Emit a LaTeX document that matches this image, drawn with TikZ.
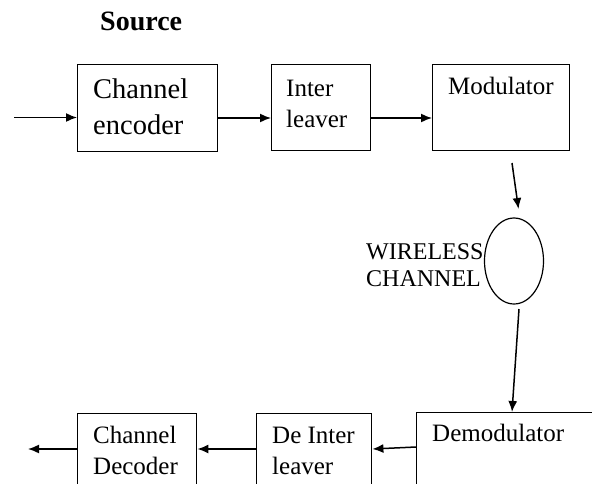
\documentclass[tikz,border=0pt]{standalone}
\usepackage{fontspec}
\setmainfont{Liberation Serif}
\usetikzlibrary{arrows.meta,shapes.geometric}
\begin{document}
\begin{tikzpicture}[x=1pt,y=-1pt,
  blk/.style={draw,line width=1.4pt,inner sep=0pt,anchor=north west},
  lbl/.style={anchor=base west,inner sep=0pt,font=\fontsize{25}{30}\selectfont},
  big/.style={anchor=base west,inner sep=0pt,font=\fontsize{28.5}{34}\selectfont},
  conn/.style={line width=1.5pt,-{Latex[length=11pt,width=9pt]}}]
  \useasboundingbox (0,0) rectangle (592,483);
  \clip (0,0) rectangle (592,483);

  % title
  \node[anchor=base west,inner sep=0pt,font=\fontsize{28}{34}\selectfont\bfseries] (src) at (100,30) {Source};

  % transmitter chain
  \node[blk,minimum width=140pt,minimum height=87pt] (enc) at (77,64) {};
  \node[big] (encA) at (93,98) {Channel};
  \node[big] (encB) at (93,134) {encoder};

  \node[blk,minimum width=99pt,minimum height=86pt] (il) at (271,64) {};
  \node[lbl] (ilA) at (286,96) {Inter};
  \node[lbl] (ilB) at (286,127) {leaver};

  \node[blk,minimum width=137pt,minimum height=86pt] (mod) at (432,64) {};
  \node[lbl] (modA) at (448,94) {Modulator};

  \coordinate (in) at (14,117.5);
  \draw[conn] (in) -- (enc.west |- in);
  \draw[conn] (enc.east |- 0,118) -- (il.west |- 0,118);
  \draw[conn] (il.east |- 0,118) -- (mod.west |- 0,118);

  % wireless channel
  \node[draw,ellipse,line width=1.2pt,minimum width=59pt,minimum height=86pt,inner sep=0pt] (ch) at (514,261) {};
  \node[anchor=base west,inner sep=0pt,font=\fontsize{24}{28}\selectfont] (chA) at (366,259) {WIRELESS};
  \node[anchor=base west,inner sep=0pt,font=\fontsize{24}{28}\selectfont] (chB) at (366,286) {CHANNEL};

  \coordinate (m1) at (512,163);
  \coordinate (m2) at (518.5,209);
  \draw[conn] (m1) -- (m2);

  % receiver chain
  \node[blk,minimum width=200pt,minimum height=100pt] (dem) at (416,412) {};
  \node[lbl] (demA) at (432,441) {Demodulator};

  \node[blk,minimum width=115pt,minimum height=100pt] (dil) at (256,413) {};
  \node[lbl] (dilA) at (272,443) {De Inter};
  \node[lbl] (dilB) at (272,474) {leaver};

  \node[blk,minimum width=119pt,minimum height=100pt] (dec) at (77,413) {};
  \node[lbl] (decA) at (93,443) {Channel};
  \node[lbl] (decB) at (93,474) {Decoder};

  \coordinate (c1) at (519,309);
  \draw[conn] (c1) -- (dem.north -| 512,0);
  \draw[conn] (dem.west |- 0,447) -- (dil.east |- 0,449);
  \draw[conn] (dil.west |- 0,449) -- (dec.east |- 0,449);
  \coordinate (out) at (28,449);
  \draw[conn] (dec.west |- out) -- (out);
\end{tikzpicture}
\end{document}
